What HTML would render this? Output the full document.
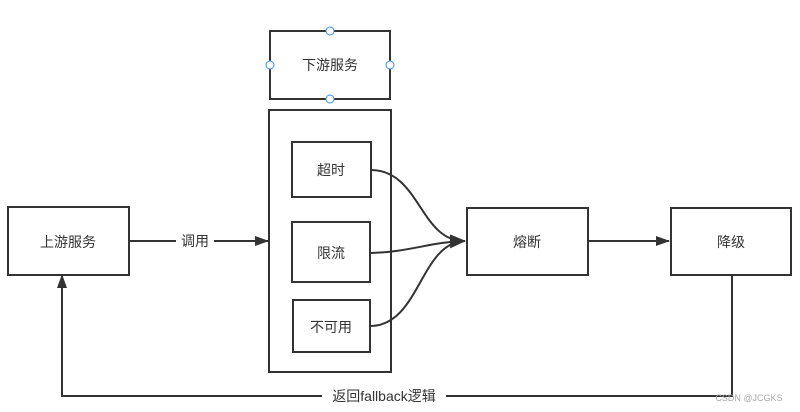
<!DOCTYPE html>
<html><head><meta charset="utf-8"><style>
html,body{margin:0;padding:0;background:#fff;}
svg{display:block;}
text{font-family:"Liberation Sans","Noto Sans CJK SC",sans-serif;font-size:14px;fill:#333;}
</style></head><body>
<svg width="800" height="412" viewBox="0 0 800 412" xmlns="http://www.w3.org/2000/svg">
<defs><marker id="a" markerWidth="14" markerHeight="12" refX="13" refY="6" orient="auto" markerUnits="userSpaceOnUse"><path d="M0,1 L14,6 L0,11 Z" fill="#333"/></marker>
<marker id="b" markerWidth="16" markerHeight="14" refX="15" refY="7" orient="auto" markerUnits="userSpaceOnUse"><path d="M0,0 L16,7 L0,14 Z" fill="#333"/></marker></defs>
<g fill="none" stroke="#333" stroke-width="2">
<rect x="270" y="31" width="120" height="68"/>
<rect x="269" y="110" width="122" height="262"/>
<rect x="292" y="142" width="79" height="55"/>
<rect x="292" y="222" width="78" height="60"/>
<rect x="293" y="300" width="77" height="52"/>
<rect x="8" y="207" width="121" height="68"/>
<rect x="467" y="208" width="121" height="67"/>
<rect x="671" y="208" width="120" height="67"/>
<path d="M129,241 L268,241" marker-end="url(#a)"/>
<path d="M588,241 L669,241" marker-end="url(#a)"/>
<path d="M371,170 C420,170 420,242 465,241" marker-end="url(#b)"/>
<path d="M370,253 C410,252 430,242 465,241"/>
<path d="M370,326 C420,326 420,242 465,241"/>
<path d="M732,275 L732,396 L62,396 L62,275" marker-end="url(#a)"/>
</g>
<rect x="176" y="232" width="38" height="18" fill="#fff"/>
<text x="195" y="246" text-anchor="middle">调用</text>
<rect x="322" y="386" width="124" height="20" fill="#fff"/>
<text x="384" y="401" text-anchor="middle" font-size="15">返回fallback逻辑</text>
<text x="330" y="70" text-anchor="middle">下游服务</text>
<text x="331" y="175" text-anchor="middle">超时</text>
<text x="331" y="258" text-anchor="middle">限流</text>
<text x="331" y="332" text-anchor="middle">不可用</text>
<text x="68" y="247" text-anchor="middle">上游服务</text>
<text x="527" y="247" text-anchor="middle">熔断</text>
<text x="731" y="247" text-anchor="middle">降级</text>
<text x="749" y="401" text-anchor="middle" style="font-size:9px;fill:#aaa">CSDN @JCGKS</text>
<g fill="#fff" stroke="#3a8ee6" stroke-width="1">
<circle cx="330" cy="31" r="4"/><circle cx="330" cy="99" r="4"/>
<circle cx="270" cy="65" r="4"/><circle cx="390" cy="65" r="4"/>
</g>
</svg>
</body></html>
